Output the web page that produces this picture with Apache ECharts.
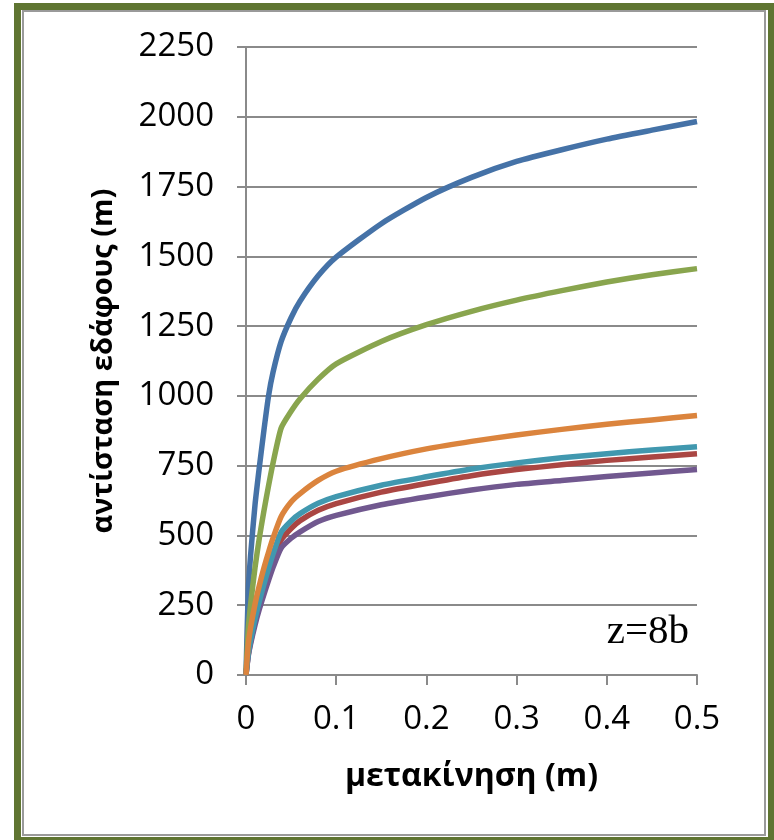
<!DOCTYPE html>
<html>
<head>
<meta charset="utf-8">
<script src="https://cdn.jsdelivr.net/npm/echarts@6/dist/echarts.min.js"></script>
<style>
  html, body { margin: 0; padding: 0; background: #ffffff; }
  #chart { width: 774px; height: 840px; }
</style>
</head>
<body>
<div id="chart"></div>
<script>
// displacement (m)
var displacement = [0, 0.0025, 0.005, 0.01, 0.015, 0.02, 0.025, 0.03, 0.039, 0.05, 0.06, 0.08, 0.1, 0.15, 0.2, 0.25, 0.3, 0.35, 0.4, 0.45, 0.5];

// soil resistance curves
var curveBlue   = [0, 300, 425, 610, 750, 880, 1000, 1085, 1195, 1280, 1340, 1430, 1497, 1617, 1711, 1783, 1840, 1882, 1920, 1952, 1983];
var curveRed    = [0, 72, 117, 190, 253, 309, 361, 410, 484, 525, 553, 590, 614, 655, 686, 714, 736, 753, 769, 781, 793];
var curveGreen  = [0, 163, 250, 385, 495, 590, 678, 760, 885, 945, 990, 1060, 1115, 1195, 1255, 1303, 1343, 1377, 1408, 1434, 1456];
var curvePurple = [0, 68, 110, 179, 238, 290, 339, 386, 455, 490, 513, 550, 572, 610, 638, 663, 683, 697, 711, 724, 736];
var curveTeal   = [0, 76, 124, 201, 267, 327, 382, 434, 512, 552, 578, 615, 639, 680, 710, 738, 760, 778, 793, 806, 818];
var curveOrange = [0, 110, 168, 254, 324, 385, 440, 491, 568, 620, 650, 697, 730, 775, 810, 837, 860, 880, 898, 914, 930];

var xTicks = [0, 0.1, 0.2, 0.3, 0.4, 0.5];
var yTicks = [0, 250, 500, 750, 1000, 1250, 1500, 1750, 2000, 2250];

var xTitle = 'μετακίνηση (m)';
var yTitle = 'αντίσταση εδάφους (m)';
var depthNote = 'z=8b';

function pairs(ys) {
  return displacement.map(function (x, i) { return [x, ys[i]]; });
}

function curve(ys, color) {
  return {
    type: 'line',
    data: pairs(ys),
    showSymbol: false,
    smooth: 0.2,
    lineStyle: { color: color, width: 5.5, join: 'round', cap: 'butt' },
    itemStyle: { color: color }
  };
}

var gridColor = '#8a8a8a';
var labelFont = 'Open Sans';
var chart = echarts.init(document.getElementById('chart'), null, { renderer: 'canvas' });

chart.setOption({
  animation: false,
  backgroundColor: '#ffffff',
  grid: { left: 246, right: 77, top: 47, bottom: 165, containLabel: false },
  xAxis: {
    type: 'value',
    min: xTicks[0],
    max: xTicks[xTicks.length - 1],
    interval: 0.1,
    name: xTitle,
    nameLocation: 'middle',
    nameGap: 86,
    nameTextStyle: { fontFamily: labelFont, fontWeight: 'bold', fontSize: 32, color: '#000' },
    axisLine: { show: true, lineStyle: { color: gridColor, width: 2 } },
    axisTick: { show: true, length: 10, lineStyle: { color: gridColor, width: 2 } },
    axisLabel: {
      fontFamily: labelFont, fontSize: 33, color: '#000', margin: 28,
      formatter: function (v) { return String(v); }
    },
    splitLine: { show: false }
  },
  yAxis: {
    type: 'value',
    min: yTicks[0],
    max: yTicks[yTicks.length - 1],
    interval: 250,
    name: yTitle,
    nameLocation: 'middle',
    nameGap: 128,
    nameTextStyle: { fontFamily: labelFont, fontWeight: 'bold', fontSize: 29, color: '#000' },
    axisLine: { show: true, lineStyle: { color: gridColor, width: 2 } },
    axisTick: { show: true, length: 9, lineStyle: { color: gridColor, width: 2 } },
    axisLabel: {
      fontFamily: labelFont, fontSize: 33, color: '#000', margin: 32,
      formatter: function (v) { return String(v); }
    },
    splitLine: { show: true, lineStyle: { color: gridColor, width: 2 } }
  },
  series: [
    curve(curveBlue, '#4572A7'),
    curve(curveRed, '#AA4643'),
    curve(curveGreen, '#89A54E'),
    curve(curvePurple, '#71588F'),
    curve(curveTeal, '#4198AF'),
    curve(curveOrange, '#DB843D')
  ],
  graphic: [
    {
      type: 'rect',
      shape: { x: 17.5, y: 6.5, width: 754, height: 834 },
      style: { fill: null, stroke: '#5F7532', lineWidth: 7 },
      silent: true
    },
    {
      type: 'rect',
      shape: { x: 23, y: 11, width: 742, height: 824 },
      style: { fill: null, stroke: '#9a9a9a', lineWidth: 2 },
      silent: true
    },
    {
      type: 'text',
      right: 85,
      top: 612,
      style: { text: depthNote, font: '41px "Liberation Serif"', fill: '#000' },
      silent: true
    }
  ]
});
</script>
</body>
</html>
